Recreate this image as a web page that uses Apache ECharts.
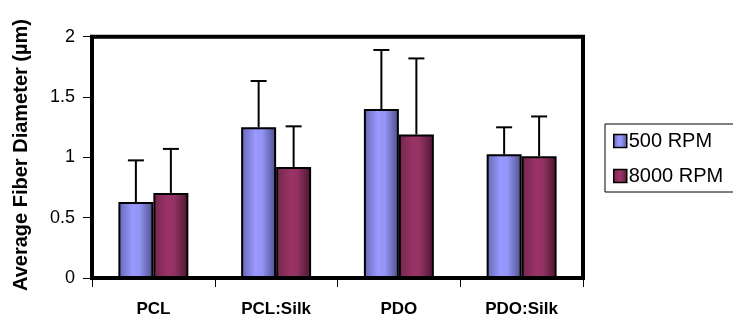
<!DOCTYPE html>
<html>
<head>
<meta charset="utf-8">
<script src="https://cdn.jsdelivr.net/npm/echarts@6/dist/echarts.min.js"></script>
<style>
html,body{margin:0;padding:0;background:#fff;}
#chart{width:733px;height:320px;}
</style>
</head>
<body>
<div id="chart"></div>
<script>
// ---- data ----
var categories = ['PCL', 'PCL:Silk', 'PDO', 'PDO:Silk'];
var seriesNames = ['500 RPM', '8000 RPM'];
var rpm500 = [0.63, 1.25, 1.40, 1.025];
var rpm8000 = [0.705, 0.92, 1.19, 1.01];
var err500 = [0.345, 0.383, 0.49, 0.224];
var err8000 = [0.365, 0.337, 0.63, 0.329];
var yAxisTitle = 'Average Fiber Diameter (\u00b5m)';

var FONT = 'Arial, "Liberation Sans", sans-serif';
var CAT_GAP = 0.43;

function grad(stops) {
  return new echarts.graphic.LinearGradient(0, 0, 1, 0, stops);
}
var blueFill = grad([
  {offset: 0, color: '#6666b3'},
  {offset: 0.4, color: '#9999ff'},
  {offset: 0.6, color: '#9494f5'},
  {offset: 1, color: '#4d4d88'}
]);
var maroonFill = grad([
  {offset: 0, color: '#73264d'},
  {offset: 0.4, color: '#993366'},
  {offset: 0.6, color: '#943263'},
  {offset: 1, color: '#4a1530'}
]);

function errData(vals, errs, sign) {
  return vals.map(function (v, i) { return [i, v, errs[i], sign]; });
}

function renderErr(params, api) {
  var idx = api.value(0), v = api.value(1), e = api.value(2), sign = api.value(3);
  var band = api.size([1, 0])[0];
  var bw = band * (1 - CAT_GAP) / 2;
  var base = api.coord([idx, v]);
  var top = api.coord([idx, v + e]);
  var x = base[0] + sign * bw / 2;
  var style = {stroke: '#000', lineWidth: 2};
  return {
    type: 'group',
    children: [
      {type: 'line', shape: {x1: x, y1: base[1], x2: x, y2: top[1]}, style: style},
      {type: 'line', shape: {x1: x - 8, y1: top[1], x2: x + 8, y2: top[1]}, style: style}
    ]
  };
}

var chart = echarts.init(document.getElementById('chart'), null, {renderer: 'canvas'});
chart.setOption({
  animation: false,
  backgroundColor: '#fff',
  grid: {
    left: 92, right: 150, top: 36.7, bottom: 42,
    show: true, borderColor: '#000', borderWidth: 4, backgroundColor: 'transparent'
  },
  legend: {
    orient: 'vertical',
    left: 605, top: 124,
    data: seriesNames,
    itemWidth: 13, itemHeight: 13, itemGap: 15,
    padding: [7, 14, 6, 8],
    borderColor: '#000', borderWidth: 1,
    icon: 'rect',
    itemStyle: {borderColor: '#000', borderWidth: 1.5},
    textStyle: {fontFamily: FONT, fontSize: 20, color: '#000', padding: [0, 0, 0, -3], lineHeight: 20}
  },
  xAxis: {
    type: 'category',
    data: categories,
    axisLine: {show: true, lineStyle: {color: '#000', width: 4}},
    axisTick: {show: true, length: 9, lineStyle: {color: '#000', width: 1}},
    axisLabel: {fontFamily: FONT, fontSize: 17, fontWeight: 'bold', color: '#000', margin: 23, lineHeight: 17}
  },
  yAxis: {
    type: 'value',
    min: 0, max: 2, interval: 0.5,
    splitLine: {show: false},
    axisLine: {show: true, lineStyle: {color: '#000', width: 4}},
    axisTick: {show: true, length: 9, lineStyle: {color: '#000', width: 1}},
    axisLabel: {fontFamily: FONT, fontSize: 18, color: '#000', margin: 17}
  },
  graphic: [{
    type: 'text',
    x: 21.5, y: 155,
    rotation: Math.PI / 2,
    style: {
      text: yAxisTitle,
      fontFamily: FONT, fontSize: 20, fontWeight: 'bold', fill: '#000',
      textAlign: 'center', textVerticalAlign: 'middle'
    }
  }],
  series: [
    {
      name: seriesNames[0], type: 'bar', data: rpm500,
      barGap: '0%', barCategoryGap: (CAT_GAP * 100) + '%',
      itemStyle: {color: blueFill, borderColor: '#000', borderWidth: 2}
    },
    {
      name: seriesNames[1], type: 'bar', data: rpm8000,
      barGap: '0%', barCategoryGap: (CAT_GAP * 100) + '%',
      itemStyle: {color: maroonFill, borderColor: '#000', borderWidth: 2}
    },
    {
      type: 'custom', name: 'err500', renderItem: renderErr,
      data: errData(rpm500, err500, -1), z: 5, silent: true
    },
    {
      type: 'custom', name: 'err8000', renderItem: renderErr,
      data: errData(rpm8000, err8000, 1), z: 5, silent: true
    }
  ]
});
</script>
</body>
</html>
